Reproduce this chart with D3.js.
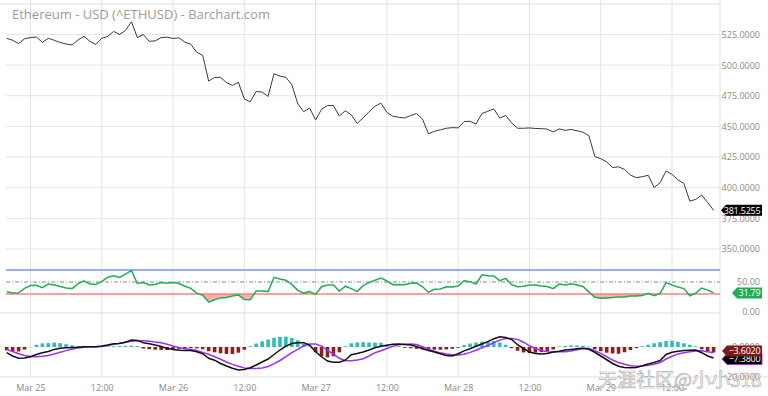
<!DOCTYPE html>
<html>
<head>
<meta charset="utf-8">
<script src="https://cdn.jsdelivr.net/npm/d3@7"></script>
<style>
  html, body { margin: 0; padding: 0; background: #fff; }
  svg { display: block; font-family: "Open Sans", sans-serif; }
</style>
</head>
<body>
<svg></svg>
<script>
// hourly bars, Mar 24 20:00 -> Mar 29 19:00
const START = Date.UTC(2018, 2, 24, 20);
const HOUR = 3600 * 1000;

const PRICE = [
  521.9, 520.3, 517.6, 521.5, 522.5, 523.0, 518.5, 521.9, 520.3, 518.5,
  517.2, 516.5, 520.5, 523.5, 519.5, 516.8, 521.9, 523.5, 527.5, 525.0,
  528.3, 535.4, 522.5, 524.9, 519.5, 519.8, 522.5, 522.8, 521.8, 522.2,
  518.8, 517.0, 510.5, 508.0, 487.0, 490.0, 490.0, 485.8, 483.5, 486.0,
  472.5, 470.0, 478.5, 478.0, 474.5, 493.0, 491.0, 490.0, 484.0, 468.5,
  462.0, 465.0, 455.2, 464.0, 467.0, 467.0, 458.5, 462.8, 459.5, 452.5,
  457.0, 462.0, 466.5, 469.0, 461.5, 458.3, 457.5, 456.9, 458.9, 460.5,
  456.0, 444.0, 446.0, 447.2, 448.5, 449.0, 448.8, 454.0, 454.2, 452.0,
  460.5, 462.4, 464.3, 456.9, 459.0, 452.9, 448.5, 448.5, 448.8, 448.3,
  448.2, 447.8, 445.5, 448.0, 446.8, 447.5, 446.5, 445.3, 442.5, 425.5,
  423.7, 421.0, 416.5, 417.0, 415.0, 410.3, 408.2, 409.0, 410.1, 400.1,
  404.2, 413.6, 411.0, 406.4, 403.5, 389.0, 390.5, 394.0, 388.0, 381.5255
];

const RSI = [
  33.9, 31.5, 32.0, 39.5, 44.0, 44.5, 40.5, 46.5, 45.0, 42.5,
  40.0, 39.0, 47.0, 52.0, 46.5, 46.0, 50.5, 58.0, 60.5, 57.5,
  63.0, 68.9, 47.5, 49.0, 45.0, 46.0, 49.0, 47.8, 49.0, 47.5,
  43.0, 39.4, 31.5, 28.0, 16.5, 20.5, 23.5, 24.2, 26.5, 28.5,
  21.0, 20.5, 35.0, 35.0, 34.0, 57.8, 55.0, 53.0, 46.0, 36.0,
  31.5, 33.9, 29.4, 42.2, 45.0, 45.0, 34.5, 43.0, 39.0, 34.0,
  44.0, 48.9, 53.0, 56.5, 52.0, 45.5, 46.0, 45.5, 48.0, 48.5,
  42.0, 33.0, 37.8, 38.5, 42.0, 41.5, 43.3, 52.0, 50.6, 46.7,
  62.0, 60.5, 60.0, 52.2, 56.0, 45.5, 42.2, 43.0, 45.0, 45.0,
  43.5, 42.5, 39.0, 46.5, 45.0, 47.0, 45.0, 42.5, 33.5, 24.4,
  22.8, 23.5, 24.0, 25.0, 25.0, 26.7, 26.7, 27.5, 31.0, 27.0,
  31.1, 48.9, 45.0, 41.5, 39.0, 27.0, 31.5, 40.0, 36.5, 31.79
];

const MACD = [
  -3.8, -6.0, -7.5, -7.3, -6.5, -5.0, -3.8, -3.0, -1.6, -0.9,
  -0.5, -0.3, -0.1, 0.2, 0.2, 0.2, 0.6, 1.3, 2.2, 2.4,
  3.2, 4.7, 4.4, 2.8, 2.1, 1.3, 0.3, -0.9, -1.7, -2.2,
  -2.3, -2.4, -3.2, -4.5, -7.5, -8.8, -11.0, -12.7, -14.2, -15.3,
  -15.0, -13.8, -12.0, -10.0, -8.0, -5.0, -2.0, 0.6, 2.3, 2.9,
  2.9, 1.2, -3.2, -6.5, -9.4, -10.2, -10.2, -8.8, -5.2, -4.3,
  -3.3, -2.0, -0.5, 0.5, 1.2, 1.8, 2.0, 1.7, 1.3, 0.3,
  -1.2, -2.3, -3.3, -4.5, -5.6, -6.0, -4.5, -2.6, -1.2, 0.5,
  2.0, 3.6, 5.5, 6.8, 6.3, 5.0, 1.5, -1.0, -3.3, -4.3,
  -4.7, -4.3, -3.3, -2.8, -2.0, -1.6, -1.2, -0.9, -1.5, -3.5,
  -6.0, -8.5, -11.0, -12.8, -13.6, -13.8, -13.6, -12.5, -11.3, -10.3,
  -9.0, -5.0, -3.5, -2.8, -2.4, -2.2, -2.0, -3.8, -6.0, -7.38
];

const SIGNAL = [
  -1.6, -3.0, -4.5, -5.6, -6.4, -6.5, -6.2, -5.6, -4.6, -3.5,
  -2.4, -1.4, -0.7, -0.2, 0.1, 0.2, 0.4, 1.0, 1.8, 2.5,
  3.2, 3.9, 4.1, 4.2, 3.9, 3.3, 2.8, 1.8, 0.7, -0.3,
  -1.1, -1.6, -2.4, -3.6, -4.8, -6.5, -8.2, -10.0, -11.6, -12.8,
  -14.0, -14.3, -14.3, -14.0, -13.0, -11.3, -9.0, -6.4, -3.7, -1.6,
  0.8, 2.0, 2.0, 0.6, -2.2, -4.8, -7.5, -9.1, -9.2, -8.7,
  -7.8, -6.0, -3.8, -2.5, -1.0, 0.4, 1.5, 1.9, 2.0, 1.6,
  0.2, -1.5, -2.8, -3.9, -4.6, -5.1, -5.3, -4.8, -3.6, -2.2,
  -0.5, 1.0, 3.0, 4.6, 5.6, 5.7, 5.1, 3.2, 0.8, -1.0,
  -2.3, -3.1, -3.3, -3.2, -3.1, -2.6, -1.8, -1.0, -1.0, -2.5,
  -4.2, -6.5, -8.7, -10.3, -11.5, -12.5, -12.9, -12.7, -12.2, -11.5,
  -10.3, -8.0, -6.2, -4.6, -3.8, -3.2, -2.6, -2.5, -3.1, -3.78
];

const HIST = [
  -2.2, -3.0, -3.0, -1.7, -0.1, 1.5, 2.4, 2.6, 3.0, 2.6,
  1.9, 1.1, 0.6, 0.2, 0.1, 0.1, 0.3, 0.4, 0.5, 0.6,
  0.8, 0.9, 0.6, -1.0, -1.5, -1.8, -2.0, -2.0, -1.8, -1.5,
  -1.2, -0.8, -0.9, -1.5, -2.8, -3.5, -4.2, -4.6, -4.7, -3.8,
  -1.8, 0.5, 2.3, 3.8, 5.0, 6.2, 6.8, 6.9, 6.0, 4.5,
  2.1, 0.3, -3.5, -6.0, -6.9, -6.2, -3.5, 0.5, 2.5, 3.0,
  3.2, 3.0, 2.9, 2.8, 1.5, 1.0, 0.5, -0.5, -0.8, -1.2,
  -1.5, -1.6, -1.8, -1.8, -1.6, -1.2, -0.5, 1.2, 2.3, 3.0,
  3.6, 4.0, 3.9, 3.0, 1.5, -0.8, -2.5, -3.6, -4.0, -3.8,
  -3.4, -2.6, -1.6, 0.4, 0.8, 1.0, 1.0, 0.8, 0.3, -1.5,
  -2.8, -3.8, -4.3, -4.5, -3.5, -2.0, -0.8, 0.5, 1.5, 2.5,
  3.3, 4.0, 4.2, 3.5, 2.5, 1.5, 0.5, -1.5, -2.8, -3.602
];

const PRICE_TICKS = [350, 375, 400, 425, 450, 475, 500, 525];
const RSI_TICKS = [0, 50];
const RSI_LEVELS = [70, 50, 30];
const MACD_TICKS = [-20, 0];
const TIME_TICKS = d3.range(0, 10).map(k => new Date(Date.UTC(2018, 2, 25) + k * 12 * HOUR));

const WIDTH = 768;
const HEIGHT = 396;
const PLOT = { left: 6, right: 720 };
const PRICE_PANEL = { top: 4, bottom: 249 };
const RSI_PANEL = { top: 252, bottom: 312 };
const MACD_PANEL = { top: 315, bottom: 377 };

const times = PRICE.map((d, i) => new Date(START + i * HOUR));

const svg = d3.select("svg")
    .attr("width", WIDTH)
    .attr("height", HEIGHT);

const xScale = d3.scaleUtc()
    .domain([new Date(START), new Date(START + 119 * HOUR)])
    .range([6.7, 713.6]);

const yPrice = d3.scaleLinear()
    .domain([350, 525])
    .range([PRICE_PANEL.bottom, 34.5]);

const yRsi = d3.scaleLinear()
    .domain([0, 100])
    .range([RSI_PANEL.bottom, RSI_PANEL.top]);

const yMacd = d3.scaleLinear()
    .domain([-20, 0])
    .range([MACD_PANEL.bottom, 347]);

const gridColor = "#e4e4e4";
const labelColor = "#8a8a8a";

// vertical grid
svg.append("g")
    .selectAll("line")
    .data(TIME_TICKS)
    .enter()
    .append("line")
    .attr("x1", d => xScale(d)).attr("x2", d => xScale(d))
    .attr("y1", 0).attr("y2", MACD_PANEL.bottom)
    .attr("stroke", gridColor);

// frame lines
const frame = svg.append("g").attr("stroke", "#e0e0e0");
frame.append("line").attr("x1", 0).attr("x2", PLOT.right).attr("y1", 4).attr("y2", 4);
frame.append("line").attr("x1", PLOT.right).attr("x2", PLOT.right).attr("y1", 0).attr("y2", MACD_PANEL.bottom);
frame.append("line").attr("x1", 0).attr("x2", PLOT.right).attr("y1", RSI_PANEL.bottom + 1).attr("y2", RSI_PANEL.bottom + 1);
frame.append("line").attr("x1", 0).attr("x2", WIDTH).attr("y1", MACD_PANEL.bottom).attr("y2", MACD_PANEL.bottom);

// price panel
svg.append("g")
    .selectAll("line")
    .data(PRICE_TICKS)
    .enter()
    .append("line")
    .attr("x1", PLOT.left).attr("x2", PLOT.right)
    .attr("y1", d => yPrice(d)).attr("y2", d => yPrice(d))
    .attr("stroke", gridColor);

svg.append("g")
    .attr("transform", `translate(760,0)`)
    .call(d3.axisLeft(yPrice).tickValues(PRICE_TICKS).tickFormat(d3.format(".4f")).tickSize(0))
    .call(g => g.select(".domain").remove())
    .call(g => g.selectAll("text").attr("fill", labelColor).attr("font-size", 9).attr("font-family", "Open Sans").attr("x", 0));

svg.append("text")
    .attr("x", 12).attr("y", 19)
    .attr("fill", "#9b9b9b")
    .attr("font-size", 13)
    .text("Ethereum - USD (^ETHUSD) - Barchart.com");

svg.append("path")
    .datum(PRICE)
    .attr("fill", "none")
    .attr("stroke", "#3a3a3a")
    .attr("stroke-width", 1)
    .attr("d", d3.line().x((d, i) => xScale(times[i])).y(d => yPrice(d)));

// rsi panel
svg.append("clipPath").attr("id", "below30")
    .append("rect")
    .attr("x", PLOT.left).attr("width", PLOT.right - PLOT.left)
    .attr("y", yRsi(30)).attr("height", yRsi(0) - yRsi(30));

svg.append("path")
    .datum(RSI)
    .attr("clip-path", "url(#below30)")
    .attr("fill", "#ff9a9a")
    .attr("opacity", 0.8)
    .attr("d", d3.area().x((d, i) => xScale(times[i])).y0(yRsi(30)).y1(d => yRsi(d)));

svg.append("g")
    .selectAll("line")
    .data(RSI_LEVELS)
    .enter()
    .append("line")
    .attr("x1", PLOT.left).attr("x2", PLOT.right)
    .attr("y1", d => yRsi(d)).attr("y2", d => yRsi(d))
    .attr("stroke", d => d === 70 ? "#7b8cff" : d === 30 ? "#ff8080" : "#888")
    .attr("stroke-width", d => d === 50 ? 1 : 1.5)
    .attr("stroke-dasharray", d => d === 50 ? "4,2,1,2" : null);

svg.append("path")
    .datum(RSI)
    .attr("fill", "none")
    .attr("stroke", "#1fae55")
    .attr("stroke-width", 1.5)
    .attr("d", d3.line().x((d, i) => xScale(times[i])).y(d => yRsi(d)));

svg.append("g")
    .attr("transform", `translate(760,0)`)
    .call(d3.axisLeft(yRsi).tickValues(RSI_TICKS).tickFormat(d3.format(".2f")).tickSize(0))
    .call(g => g.select(".domain").remove())
    .call(g => g.selectAll("text").attr("fill", labelColor).attr("font-size", 9).attr("font-family", "Open Sans").attr("x", 0));

// macd panel
svg.append("line")
    .attr("x1", PLOT.left).attr("x2", PLOT.right)
    .attr("y1", yMacd(0)).attr("y2", yMacd(0))
    .attr("stroke", "#eeeeee");

svg.append("g")
    .selectAll("rect")
    .data(HIST)
    .enter()
    .append("rect")
    .attr("x", (d, i) => xScale(times[i]) - 1.8)
    .attr("width", 3.6)
    .attr("y", d => Math.min(yMacd(d), yMacd(0)))
    .attr("height", d => Math.abs(yMacd(d) - yMacd(0)))
    .attr("fill", d => d >= 0 ? "#2fbcbc" : "#8e1f1f");

svg.append("path")
    .datum(SIGNAL)
    .attr("fill", "none")
    .attr("stroke", "#9b30ff")
    .attr("stroke-width", 1.5)
    .attr("d", d3.line().x((d, i) => xScale(times[i])).y(d => yMacd(d)));

svg.append("path")
    .datum(MACD)
    .attr("fill", "none")
    .attr("stroke", "#111")
    .attr("stroke-width", 1.5)
    .attr("d", d3.line().x((d, i) => xScale(times[i])).y(d => yMacd(d)));

svg.append("g")
    .attr("transform", `translate(760,0)`)
    .call(d3.axisLeft(yMacd).tickValues(MACD_TICKS).tickFormat(d3.format(".4f")).tickSize(0))
    .call(g => g.select(".domain").remove())
    .call(g => g.selectAll("text").attr("fill", labelColor).attr("font-size", 9).attr("font-family", "Open Sans").attr("x", 0));

// time axis
svg.append("g")
    .attr("transform", `translate(0,${MACD_PANEL.bottom})`)
    .call(d3.axisBottom(xScale)
        .tickValues(TIME_TICKS)
        .tickSize(0)
        .tickFormat(d => d.getUTCHours() === 0 ? d3.utcFormat("%b %-d")(d) : "12:00"))
    .call(g => g.select(".domain").remove())
    .call(g => g.selectAll("text").attr("fill", labelColor).attr("font-size", 9).attr("font-family", "Open Sans").attr("dy", "1.2em"));

// last value tags
function tag(x0, x1, yc, fill, stroke, label) {
    const h = 5.5;
    svg.append("path")
        .attr("d", `M${x0},${yc} L${x0 + 5},${yc - h} L${x1},${yc - h} L${x1},${yc + h} L${x0 + 5},${yc + h} Z`)
        .attr("fill", fill)
        .attr("stroke", stroke || "none");
    svg.append("text")
        .attr("x", x1 - 1.5).attr("y", yc + 3.3)
        .attr("text-anchor", "end")
        .attr("fill", "#fff")
        .attr("font-size", 9)
        .attr("letter-spacing", -0.2)
        .text(label);
}

const last = PRICE.length - 1;
tag(721, 762, yPrice(PRICE[last]), "#000", null, d3.format(".4f")(PRICE[last]));
tag(732, 762, yRsi(RSI[last]), "#1fae55", null, d3.format(".2f")(RSI[last]));
tag(722, 762, yMacd(MACD[last]) + 1, "#000", "#9b30ff", d3.format(".4f")(MACD[last]));
tag(722, 762, yMacd(HIST[last]) - 1.5, "#7c1a1a", null, d3.format(".4f")(HIST[last]));

// watermark
svg.append("text")
    .attr("x", 598).attr("y", 387)
    .attr("font-family", "Noto Sans CJK SC")
    .attr("font-size", 19)
    .attr("fill", "#fff")
    .attr("stroke", "#aaa")
    .attr("stroke-width", 0.7)
    .attr("opacity", 0.9)
    .text("天涯社区@小小318");
</script>
</body>
</html>
